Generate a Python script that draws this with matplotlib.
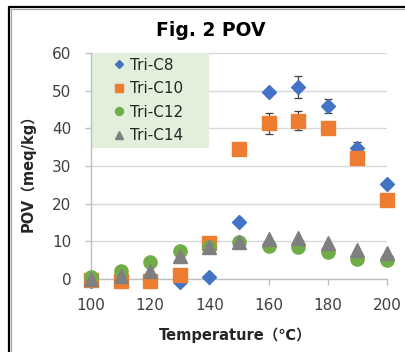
import numpy as np
import matplotlib
matplotlib.use("Agg")
import matplotlib.pyplot as plt
from matplotlib.lines import Line2D

# datos
temps = [100, 110, 120, 130, 140, 150, 160, 170, 180, 190, 200]
tri_c8 = [-0.5, -0.5, -0.5, -0.7, 0.4, 15.2, 49.7, 51.0, 45.9, 34.9, 25.2]
tri_c8_err = [0, 0, 0, 0, 0, 0, 0, 3.0, 1.8, 1.5, 0]
tri_c10 = [-0.3, -0.5, -0.5, 1.1, 9.5, 34.4, 41.3, 42.0, 40.2, 32.2, 21.0]
tri_c10_err = [0, 0, 0, 0, 0, 0, 2.7, 2.5, 0, 0, 0]
tri_c12 = [0.4, 2.1, 4.6, 7.4, 8.6, 9.9, 8.8, 8.4, 7.2, 5.2, 5.0]
tri_c14 = [0.0, 0.8, 2.1, 6.1, 8.6, 9.7, 10.5, 10.8, 9.5, 7.7, 6.8]

series = [
    ("Tri-C8", tri_c8, tri_c8_err, "D", 6.8, "#4472C4"),
    ("Tri-C10", tri_c10, tri_c10_err, "s", 10, "#ED7D31"),
    ("Tri-C12", tri_c12, None, "o", 9.5, "#70AD47"),
    ("Tri-C14", tri_c14, None, "^", 10, "#7F7F7F"),
]

W, H = 406, 352
fig = plt.figure(figsize=(W / 100, H / 100), dpi=100)
ax = fig.add_axes([91 / W, 1 - 279 / H, 296 / W, 226 / H])

x = np.array(temps)
for i, (name, vals, err, mk, ms, col) in enumerate(series):
    y = np.array(vals)
    if err is not None:
        e = np.array(err)
        m = e > 0
        ax.errorbar(x[m], y[m], yerr=e[m], fmt="none", ecolor="#404040",
                    elinewidth=0.9, capsize=3, capthick=0.9, zorder=2 + i * 2,
                    clip_on=False)
    ax.plot(x, y, linestyle="none", marker=mk, markersize=ms, color=col,
            markeredgecolor=col, label=name, zorder=3 + i * 2, clip_on=False)

ax.set_xlim(100, 200)
ax.set_ylim(0, 60)
ax.set_xticks(np.arange(100, 201, 20))
ax.set_yticks(np.arange(0, 61, 10))
ax.yaxis.grid(True, color="#D9D9D9", linewidth=1)
ax.set_axisbelow(True)

for s in ["top", "right"]:
    ax.spines[s].set_visible(False)
for s in ["left", "bottom"]:
    ax.spines[s].set_color("#BFBFBF")
    ax.spines[s].set_linewidth(1)

ax.tick_params(axis="both", direction="out", length=4, width=1,
               color="#BFBFBF", labelsize=11, labelcolor="#404040", pad=10)

lab_font = ["DejaVu Sans", "Noto Sans CJK JP"]
ax.set_xlabel("Temperature（℃）", fontsize=10.5, fontweight="bold",
              family=lab_font, color="#262626")
ax.xaxis.set_label_coords((235 - 91) / 296, (279 - 335) / 226)
ax.xaxis.label.set_va("center")
ax.set_ylabel("POV（meq/kg）", fontsize=10.5, fontweight="bold",
              family=lab_font, color="#262626")
ax.yaxis.set_label_coords((28 - 91) / 296, (279 - 170) / 226)
ax.yaxis.label.set_va("center")

leg = ax.legend(loc="upper left", bbox_to_anchor=(0.003, 1.0, 0.396, 0),
                mode="expand", borderaxespad=0, fontsize=11, markerscale=0.6,
                handlelength=2.9, handletextpad=-0.72, labelspacing=0.56,
                borderpad=0.3, frameon=True, fancybox=False)
leg.get_frame().set_facecolor("#E2EFDA")
leg.get_frame().set_edgecolor("none")
leg.get_frame().set_alpha(1)
leg.set_zorder(1)
for t in leg.get_texts():
    t.set_color("#262626")

fig.text(211 / W, 1 - 30 / H, "Fig. 2 POV", ha="center", va="center",
         fontsize=13.5, fontweight="bold", color="#000000")

# marco de la figura (solo arriba e izquierda visibles)
fig.add_artist(Line2D([9 / W, 9 / W, 1], [0, 1 - 7 / H, 1 - 7 / H],
                      transform=fig.transFigure, color="black", lw=1.6))
fig.add_artist(Line2D([10.8 / W, 10.8 / W, 1], [0, 1 - 8.8 / H, 1 - 8.8 / H],
                      transform=fig.transFigure, color="#A0A0A0", lw=0.8))

fig.savefig("out.png", dpi=100)
